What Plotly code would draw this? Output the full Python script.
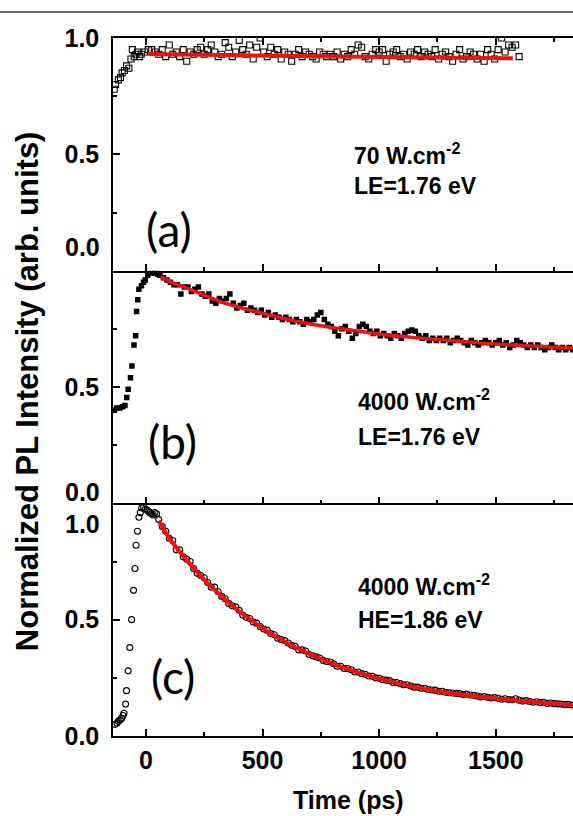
import plotly.graph_objects as go

# ---------------- data ----------------
x_ticks = [0, 500, 1000, 1500]
x_tick_text = ["0", "500", "1000", "1500"]
x_minor = [250, 750, 1250, 1750]
y_ticks = [0.0, 0.5, 1.0]
y_tick_text = ["0.0", "0.5", "1.0"]
y_minor = [0.25, 0.75]

# panel (a): 70 W.cm-2, LE
t_a = [-136, -130, -118, -109, -102, -92, -83, -73, -64, -58, -50, -42, -35, -27, -20,
       -5, 10, 25, 40, 55, 70, 85, 100, 115, 130, 145, 160,
       175, 190, 205, 220, 235, 250, 265, 280, 295, 310, 325, 340,
       355, 370, 385, 400, 415, 430, 445, 460, 475, 490, 505, 520,
       535, 550, 565, 580, 595, 610, 625, 640, 655, 670, 685, 700,
       715, 730, 745, 760, 775, 790, 805, 820, 835, 850, 865, 880,
       895, 910, 925, 940, 955, 970, 985, 1000, 1015, 1030, 1045, 1060,
       1075, 1090, 1105, 1120, 1135, 1150, 1165, 1180, 1195, 1210, 1225, 1240,
       1255, 1270, 1285, 1300, 1315, 1330, 1345, 1360, 1375, 1390, 1405, 1420,
       1435, 1450, 1465, 1480, 1495, 1510, 1525, 1540, 1555, 1570, 1585, 1600]
pl_a = [0.78, 0.80, 0.82, 0.83, 0.85, 0.86, 0.88, 0.87, 0.91, 0.95, 0.92, 0.93, 0.94, 0.92, 0.93,
        0.94, 0.95, 0.95, 0.94, 0.93, 0.95, 0.92, 0.97, 0.93, 0.94, 0.92, 0.95,
        0.90, 0.94, 0.93, 0.95, 0.96, 0.93, 0.95, 0.97, 0.94, 0.92, 0.93, 0.98,
        0.96, 0.92, 0.94, 0.99, 0.95, 0.93, 0.97, 0.91, 0.96, 1.00, 0.94, 0.92,
        0.96, 0.93, 0.95, 0.91, 0.94, 0.93, 0.90, 0.93, 0.95, 0.92, 0.94, 0.93,
        0.92, 0.91, 0.94, 0.93, 0.92, 0.93, 0.92, 0.94, 0.91, 0.93, 0.92, 0.95,
        0.93, 0.97, 0.96, 0.92, 0.91, 0.93, 0.95, 0.94, 0.95, 0.90, 0.93, 0.94,
        0.95, 0.92, 0.93, 0.91, 0.94, 0.93, 0.95, 0.92, 0.94, 0.93, 0.92, 0.95,
        0.91, 0.93, 0.94, 0.92, 0.90, 0.93, 0.95, 0.91, 0.92, 0.94, 0.93, 0.91,
        0.93, 0.90, 0.95, 0.93, 0.91, 0.95, 1.00, 0.94, 0.97, 0.96, 0.97, 0.92]
fit_a_t = [10, 400, 800, 1200, 1573]
fit_a = [0.931, 0.926, 0.921, 0.916, 0.913]

# panel (b): 4000 W.cm-2, LE
t_b = [-135, -125, -112, -100, -90, -82, -76, -66, -60, -51, -44, -40, -35, -30, -19, -10, -3, 8, 24, 40, 50,
       60, 75, 90, 105, 120, 135, 150, 165, 180, 195, 210, 225,
       240, 255, 270, 285, 300, 315, 330, 345, 360, 375, 390, 405,
       420, 435, 450, 465, 480, 495, 510, 525, 540, 555, 570, 585,
       600, 615, 630, 645, 660, 675, 690, 705, 720, 735, 750, 765,
       780, 795, 810, 825, 840, 855, 870, 885, 900, 915, 930, 945,
       960, 975, 990, 1005, 1020, 1035, 1050, 1065, 1080, 1095, 1110, 1125,
       1140, 1155, 1170, 1185, 1200, 1215, 1230, 1245, 1260, 1275, 1290, 1305,
       1320, 1335, 1350, 1365, 1380, 1395, 1410, 1425, 1440, 1455, 1470, 1485,
       1500, 1515, 1530, 1545, 1560, 1575, 1590, 1605, 1620, 1635, 1650, 1665,
       1680, 1695, 1710, 1725, 1740, 1755, 1770, 1785, 1800, 1815, 1830, 1845]
pl_b = [0.40, 0.41, 0.41, 0.415, 0.42, 0.455, 0.49, 0.54, 0.59, 0.68, 0.72, 0.825, 0.875, 0.92, 0.935, 0.95, 0.96, 0.98, 0.99, 0.99, 0.985,
        0.98, 0.97, 0.96, 0.95, 0.94, 0.94, 0.90, 0.93, 0.93, 0.91, 0.92, 0.93,
        0.90, 0.89, 0.90, 0.87, 0.86, 0.88, 0.87, 0.88, 0.90, 0.86, 0.84, 0.85,
        0.86, 0.83, 0.84, 0.83, 0.82, 0.83, 0.81, 0.82, 0.80, 0.81, 0.80, 0.79,
        0.80, 0.79, 0.78, 0.79, 0.78, 0.77, 0.79, 0.78, 0.79, 0.81, 0.82, 0.79,
        0.77, 0.76, 0.74, 0.72, 0.75, 0.76, 0.74, 0.71, 0.73, 0.76, 0.77, 0.76,
        0.74, 0.73, 0.74, 0.72, 0.73, 0.72, 0.71, 0.73, 0.72, 0.71, 0.73, 0.74,
        0.745, 0.74, 0.72, 0.71, 0.72, 0.70, 0.71, 0.70, 0.71, 0.70, 0.71, 0.69,
        0.70, 0.71, 0.70, 0.69, 0.68, 0.70, 0.69, 0.68, 0.69, 0.70, 0.69, 0.68,
        0.69, 0.70, 0.68, 0.69, 0.67, 0.68, 0.70, 0.69, 0.68, 0.67, 0.68, 0.67,
        0.68, 0.67, 0.66, 0.67, 0.68, 0.67, 0.66, 0.67, 0.66, 0.67, 0.66, 0.67]
fit_b_t = [63, 100, 158, 250, 316, 400, 495, 633, 790, 900, 997, 1100, 1266, 1400, 1495, 1650, 1848]
fit_b = [0.975, 0.955, 0.932, 0.895, 0.868, 0.843, 0.818, 0.785, 0.757, 0.742, 0.728, 0.717, 0.703, 0.692, 0.685, 0.676, 0.667]

# panel (c): 4000 W.cm-2, HE
t_c = [-132, -124, -118, -110, -104, -98, -94, -87, -83, -76, -69, -61, -53, -47, -42, -36, -30, -24, -18, -10, -2, 6, 12, 17, 24, 31, 38, 46,
       55, 70, 85, 100, 115, 130, 145, 160, 175, 190, 205, 220,
       235, 250, 265, 280, 295, 310, 325, 340, 355, 370, 385, 400,
       415, 430, 445, 460, 475, 490, 505, 520, 535, 550, 565, 580,
       595, 610, 625, 640, 655, 670, 685, 700, 715, 730, 745, 760,
       775, 790, 805, 820, 835, 850, 865, 880, 895, 910, 925, 940,
       955, 970, 985, 1000, 1015, 1030, 1045, 1060, 1075, 1090, 1105, 1120,
       1135, 1150, 1165, 1180, 1195, 1210, 1225, 1240, 1255, 1270, 1285, 1300,
       1315, 1330, 1345, 1360, 1375, 1390, 1405, 1420, 1435, 1450, 1465, 1480,
       1495, 1510, 1525, 1540, 1555, 1570, 1585, 1600, 1615, 1630, 1645, 1660,
       1675, 1690, 1705, 1720, 1735, 1750, 1765, 1780, 1795, 1810, 1825, 1840]
pl_c = [0.05, 0.055, 0.063, 0.07, 0.076, 0.088, 0.098, 0.137, 0.195, 0.28, 0.38, 0.50, 0.626, 0.72, 0.82, 0.88, 0.94, 0.96, 0.98, 0.985, 0.975, 0.97, 0.965, 0.96, 0.955, 0.95, 0.96, 0.955,
        0.93, 0.90, 0.88, 0.85, 0.84, 0.80, 0.80, 0.77, 0.76, 0.75, 0.72, 0.70,
        0.69, 0.68, 0.66, 0.64, 0.64, 0.62, 0.60, 0.59, 0.57, 0.56, 0.555, 0.54,
        0.52, 0.51, 0.505, 0.49, 0.485, 0.47, 0.46, 0.455, 0.44, 0.435, 0.42, 0.415,
        0.41, 0.40, 0.39, 0.385, 0.37, 0.37, 0.365, 0.35, 0.345, 0.34, 0.335, 0.325,
        0.32, 0.318, 0.31, 0.30, 0.30, 0.29, 0.29, 0.285, 0.275, 0.275, 0.268, 0.265,
        0.258, 0.257, 0.25, 0.248, 0.242, 0.24, 0.238, 0.23, 0.23, 0.225, 0.22, 0.22,
        0.215, 0.21, 0.21, 0.205, 0.205, 0.20, 0.198, 0.197, 0.192, 0.192, 0.188, 0.186,
        0.185, 0.183, 0.182, 0.178, 0.18, 0.176, 0.175, 0.172, 0.168, 0.17, 0.166, 0.163,
        0.165, 0.162, 0.158, 0.16, 0.157, 0.156, 0.16, 0.154, 0.15, 0.152, 0.148, 0.145,
        0.147, 0.144, 0.145, 0.14, 0.142, 0.139, 0.138, 0.137, 0.135, 0.136, 0.133, 0.132]
fit_c_t = [55, 100, 150, 200, 250, 300, 400, 500, 600, 700, 800, 900, 1000, 1100, 1200, 1300, 1400, 1500, 1600, 1700, 1850]
fit_c = [0.925, 0.851, 0.786, 0.727, 0.672, 0.623, 0.536, 0.464, 0.403, 0.353, 0.311, 0.276, 0.247, 0.222, 0.202, 0.185, 0.172, 0.161, 0.152, 0.144, 0.132]

panel_labels = ["(a)", "(b)", "(c)"]
power_text = ["70 W.cm<sup>-2</sup>", "4000 W.cm<sup>-2</sup>", "4000 W.cm<sup>-2</sup>"]
energy_text = ["LE=1.76 eV", "LE=1.76 eV", "HE=1.86 eV"]

# ---------------- figure ----------------
BOLD = dict(family="Liberation Sans, Arial, sans-serif", size=25, color="black", weight="bold")
RED = "#ee1111"

fig = go.Figure()
fig.add_trace(go.Scatter(x=t_a, y=pl_a, mode="markers", xaxis="x", yaxis="y",
                         marker=dict(symbol="square-open", size=6, color="black", line=dict(width=1.1))))
fig.add_trace(go.Scatter(x=fit_a_t, y=fit_a, mode="lines", xaxis="x", yaxis="y",
                         line=dict(color=RED, width=4, shape="spline")))
fig.add_trace(go.Scatter(x=t_b, y=pl_b, mode="markers", xaxis="x2", yaxis="y2",
                         marker=dict(symbol="square", size=5.5, color="black", line=dict(width=0))))
fig.add_trace(go.Scatter(x=fit_b_t, y=fit_b, mode="lines", xaxis="x2", yaxis="y2",
                         line=dict(color=RED, width=3.5, shape="spline")))
fig.add_trace(go.Scatter(x=t_c, y=pl_c, mode="markers", xaxis="x3", yaxis="y3",
                         marker=dict(symbol="circle-open", size=6, color="black", line=dict(width=1.1))))
fig.add_trace(go.Scatter(x=fit_c_t, y=fit_c, mode="lines", xaxis="x3", yaxis="y3",
                         line=dict(color=RED, width=4, shape="spline")))

xbase = dict(range=[-141, 1831], showline=True, linecolor="black", linewidth=1.5,
             ticks="inside", ticklen=7, tickwidth=1.5, tickcolor="black",
             tickvals=x_ticks, ticktext=x_tick_text, showgrid=False, zeroline=False,
             minor=dict(tickvals=x_minor, ticks="inside", ticklen=4, tickwidth=1.5, tickcolor="black"),
             tickfont=BOLD, ticklabelstandoff=1)
ybase = dict(range=[0, 1], showline=True, linecolor="black", linewidth=1.5,
             ticks="inside", ticklen=7, tickwidth=1.5, tickcolor="black",
             showgrid=False, zeroline=False,
             minor=dict(tickvals=y_minor, ticks="inside", ticklen=4, tickwidth=1.5, tickcolor="black"),
             tickfont=BOLD, ticklabelstandoff=7)

fig.update_layout(
    width=573, height=816,
    margin=dict(l=113, r=0, t=38, b=80),
    paper_bgcolor="white", plot_bgcolor="white",
    showlegend=False,
    xaxis=dict(xbase, anchor="y", domain=[0, 1], mirror="ticks", showticklabels=False),
    xaxis2=dict(xbase, anchor="y2", domain=[0, 1], showticklabels=False),
    xaxis3=dict(xbase, anchor="y3", domain=[0, 1], showticklabels=True),
    yaxis=dict(ybase, anchor="x", domain=[2/3, 1],
               tickvals=y_ticks[1:], ticktext=y_tick_text[1:]),
    yaxis2=dict(ybase, anchor="x2", domain=[1/3, 2/3],
                tickvals=y_ticks[1:2], ticktext=y_tick_text[1:2]),
    yaxis3=dict(ybase, anchor="x3", domain=[0, 1/3],
                tickvals=y_ticks[:2], ticktext=y_tick_text[:2]),
)

ann = []
# boundary tick labels, nudged apart as in the original
for yref, yv, txt in [("y", 0.103, y_tick_text[0]), ("y2", 1.017, y_tick_text[2]),
                      ("y2", 0.05, y_tick_text[0]), ("y3", 0.91, y_tick_text[2])]:
    ann.append(dict(x=-0.005, xref="paper", y=yv, yref=yref, text=txt, showarrow=False,
                    xanchor="right", yanchor="middle", font=BOLD, xshift=-9))

refs = [("x", "y"), ("x2", "y2"), ("x3", "y3")]
lab_pos = [(99, 0.177), (116, 0.267), (116, 0.254)]
pow_pos = [(883, 0.50), (900, 0.444), (900, 0.651)]
en_pos = [(883, 0.366), (900, 0.284), (900, 0.50)]
TXT = dict(family="Liberation Sans, Arial, sans-serif", size=23, color="black", weight="bold")
for i, (xr, yr) in enumerate(refs):
    ann.append(dict(x=lab_pos[i][0], y=lab_pos[i][1], xref=xr, yref=yr, text=panel_labels[i],
                    showarrow=False, xanchor="center", yanchor="middle",
                    font=dict(family="Lato, Open Sans, sans-serif", size=46, color="black")))
    ann.append(dict(x=pow_pos[i][0], y=pow_pos[i][1], xref=xr, yref=yr, text=power_text[i],
                    showarrow=False, xanchor="left", yanchor="middle", font=TXT))
    ann.append(dict(x=en_pos[i][0], y=en_pos[i][1], xref=xr, yref=yr, text=energy_text[i],
                    showarrow=False, xanchor="left", yanchor="middle", font=TXT))

ann.append(dict(x=0.513, y=-0.0917, xref="paper", yref="paper", text="Time (ps)", showarrow=False,
                xanchor="center", yanchor="middle", font=dict(BOLD, size=25)))
ann.append(dict(x=-0.187, y=0.494, xref="paper", yref="paper",
                text="Normalized PL Intensity (arb. units)", showarrow=False, textangle=-90,
                xanchor="center", yanchor="middle", font=dict(BOLD, size=31)))
fig.update_layout(annotations=ann)

# horizontal rule at the top of the page
fig.add_shape(type="line", xref="paper", yref="paper", x0=-0.3, x1=1.05, y0=1.0372, y1=1.0372,
              line=dict(color="#333333", width=1.5))

fig.write_html("out.html", config={"displayModeBar": False},
               post_script="document.body.style.margin='0';document.body.style.overflow='hidden';")
